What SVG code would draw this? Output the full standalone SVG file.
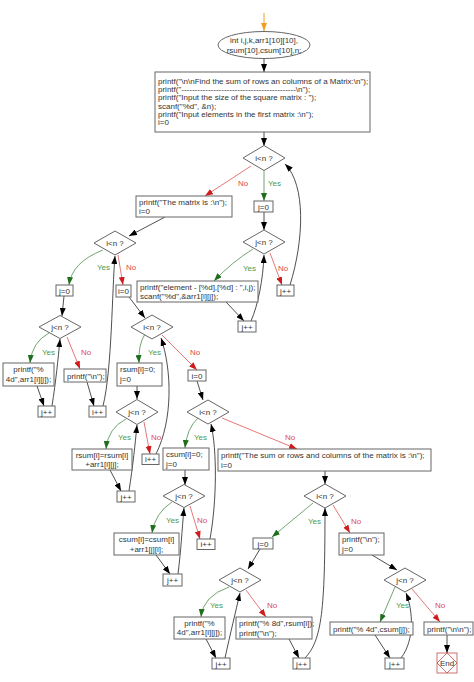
<svg xmlns="http://www.w3.org/2000/svg" width="474" height="682" viewBox="0 0 474 682">
<style>
text{font-family:"Liberation Sans",Arial,sans-serif;font-size:8px;fill:#333}
.c{text-anchor:middle}
.b{fill:#fff;stroke:#666;stroke-width:1}
.e{fill:none;stroke:#222;stroke-width:0.8;marker-end:url(#mk)}
.g{fill:none;stroke:#4e8e4e;stroke-width:0.8;marker-end:url(#mg)}
.r{fill:none;stroke:#dd5555;stroke-width:0.8;marker-end:url(#mr)}
.ly{fill:#4e9a4e}
.ln{fill:#e04a4a}
</style>
<defs>
<marker id="mk" markerUnits="userSpaceOnUse" markerWidth="8" markerHeight="6" refX="8" refY="3" orient="auto"><path d="M0,0L8,3L0,6z" fill="#000"/></marker>
<marker id="mg" markerUnits="userSpaceOnUse" markerWidth="8" markerHeight="6" refX="8" refY="3" orient="auto"><path d="M0,0L8,3L0,6z" fill="#1e6e1e"/></marker>
<marker id="mr" markerUnits="userSpaceOnUse" markerWidth="8" markerHeight="6" refX="8" refY="3" orient="auto"><path d="M0,0L8,3L0,6z" fill="#d01c1c"/></marker>
<marker id="mo" markerUnits="userSpaceOnUse" markerWidth="8" markerHeight="6" refX="8" refY="3" orient="auto"><path d="M0,0L8,3L0,6z" fill="#f0a020"/></marker>
</defs>
<rect width="474" height="682" fill="#fff"/>
<g id="connectors">
<path d="M264 13L264 31" fill="none" stroke="#f0a020" stroke-width="1" marker-end="url(#mo)"/>
<path class="e" d="M264 58.5L264 72"/>
<path class="e" d="M264 132L264 146"/>
<path class="g" d="M264 170.5L264 201"/>
<path class="r" d="M251 166L205 196"/>
<path class="e" d="M264 212L264 230"/>
<path class="g" d="M253 249Q232 262 214 281"/>
<path class="r" d="M270 253L282 285"/>
<path class="e" d="M226 302L244 321"/>
<path class="e" d="M251 321C258 305 263 280 264 255"/>
<path class="e" d="M290 285C304 240 306 185 285 164"/>
<path class="e" d="M165 217L129 236"/>
<path class="g" d="M103 250Q72 262 69 285"/>
<path class="r" d="M118 255L123 285"/>
<path class="e" d="M64 296L62 316"/>
<path class="g" d="M49 333Q32 342 30 363"/>
<path class="r" d="M67 337L80 369"/>
<path class="e" d="M37 386L44 406"/>
<path class="e" d="M52 406C56 380 58 360 60 339"/>
<path class="e" d="M87 382L94 406"/>
<path class="e" d="M103 406C112 370 112 290 115 256"/>
<path class="e" d="M129 297L145 318"/>
<path class="g" d="M145 334Q138 345 139 363"/>
<path class="r" d="M162 335L197 370"/>
<path class="e" d="M156 454C173 420 172 370 161 338"/>
<path class="e" d="M137 386L137 399"/>
<path class="g" d="M126 419Q108 428 106 449"/>
<path class="r" d="M144 422L150 454"/>
<path class="e" d="M110 470L121 491"/>
<path class="e" d="M129 491C133 465 135 445 137 425"/>
<path class="e" d="M197 381L203 400"/>
<path class="g" d="M198 418Q187 428 185 448"/>
<path class="r" d="M222 418L297 449"/>
<path class="e" d="M185 470L185 485"/>
<path class="g" d="M172 502Q155 513 152 533"/>
<path class="r" d="M190 506L200 539"/>
<path class="e" d="M156 555L170 574"/>
<path class="e" d="M178 574C181 550 182 530 184 508"/>
<path class="e" d="M210 539C217 500 217 450 211 424"/>
<path class="e" d="M325 471L325 484"/>
<path class="g" d="M313 503L272 537"/>
<path class="r" d="M333 505L350 533"/>
<path class="e" d="M260 549L248 569"/>
<path class="g" d="M229 587Q203 596 201 617"/>
<path class="r" d="M246 590L266 617"/>
<path class="e" d="M206 639L216 658"/>
<path class="e" d="M225 658C230 635 236 610 240 593"/>
<path class="e" d="M289 639L299 658"/>
<path class="e" d="M305 658C322 640 325 610 325 508"/>
<path class="e" d="M372 555L397 570"/>
<path class="g" d="M395 587L380 622"/>
<path class="r" d="M412 589L440 622"/>
<path class="e" d="M375 635L390 658"/>
<path class="e" d="M401 658C415 640 413 610 406 593"/>
<path class="e" d="M447 635L447 653"/>
<text class="ly" x="268" y="186">Yes</text>
<text class="ln" x="238" y="186">No</text>
<text class="ly" x="243" y="271">Yes</text>
<text class="ln" x="278" y="271">No</text>
<text class="ly" x="97" y="270">Yes</text>
<text class="ln" x="126" y="270">No</text>
<text class="ly" x="42" y="355">Yes</text>
<text class="ln" x="81" y="355">No</text>
<text class="ly" x="148" y="355">Yes</text>
<text class="ln" x="190" y="355">No</text>
<text class="ly" x="118" y="440">Yes</text>
<text class="ln" x="151" y="440">No</text>
<text class="ly" x="194" y="440">Yes</text>
<text class="ln" x="285" y="440">No</text>
<text class="ly" x="166" y="523">Yes</text>
<text class="ln" x="197" y="523">No</text>
<text class="ly" x="308" y="524">Yes</text>
<text class="ln" x="351" y="524">No</text>
<text class="ly" x="210" y="608">Yes</text>
<text class="ln" x="267" y="608">No</text>
<text class="ly" x="396" y="608">Yes</text>
<text class="ln" x="435" y="608">No</text>
</g>
<g id="n_decl"><ellipse cx="264" cy="45" rx="46" ry="13.5" class="b"/><text class="c" x="264" y="43">int i,j,k,arr1[10][10],</text><text class="c" x="264" y="53">rsum[10],csum[10],n;</text></g>
<g id="n_init"><rect class="b" x="155" y="72" width="215" height="60"/>
<text x="158" y="84">printf("\n\nFind the sum of rows an columns of a Matrix:\n");</text>
<text x="158" y="92">printf("-------------------------------------------\n");</text>
<text x="158" y="100">printf("Input the size of the square matrix : ");</text>
<text x="158" y="108.5">scanf("%d", &amp;n);</text>
<text x="158" y="116.5">printf("Input elements in the first matrix :\n");</text>
<text x="158" y="125">i=0</text></g>
<g id="d1"><path class="b" d="M243 158L264 145.5L285 158L264 170.5z"/><text class="c" x="264" y="161">i&lt;n ?</text></g>
<g id="n_j0a"><rect class="b" x="254" y="201" width="19" height="11"/><text class="c" x="263.5" y="209.5">j=0</text></g>
<g id="d2"><path class="b" d="M243 242L264 230L285 242L264 254z"/><text class="c" x="264" y="245">j&lt;n ?</text></g>
<g id="n_elem"><rect class="b" x="137" y="281" width="121" height="21"/><text x="140" y="289.5">printf("element - [%d],[%d] : ",i,j);</text><text x="140" y="298.5">scanf("%d",&amp;arr1[i][j]);</text></g>
<g id="n_jpa"><rect class="b" x="238" y="321" width="18" height="11"/><text class="c" x="247" y="329.5">j++</text></g>
<g id="n_ipa"><rect class="b" x="277" y="285" width="17" height="11"/><text class="c" x="285.5" y="293.5">j++</text></g>
<g id="n_mat"><rect class="b" x="136" y="196" width="96" height="21"/><text x="139" y="204.5">printf("The matrix is :\n");</text><text x="139" y="213.5">i=0</text></g>
<g id="d3"><path class="b" d="M94 243L115 231L136 243L115 255z"/><text class="c" x="115" y="246">i&lt;n ?</text></g>
<g id="n_j0b"><rect class="b" x="56" y="285" width="17" height="11"/><text class="c" x="64.5" y="293.5">j=0</text></g>
<g id="d4"><path class="b" d="M39 327L60 315.5L81 327L60 338.5z"/><text class="c" x="60" y="330">j&lt;n ?</text></g>
<g id="n_p4a"><rect class="b" x="3" y="363" width="51" height="23"/><text class="c" x="28.5" y="372">printf("%</text><text class="c" x="28.5" y="381.5">4d",arr1[i][j]);</text></g>
<g id="n_pn"><rect class="b" x="64" y="369" width="42" height="13"/><text x="67" y="378.5">printf("\n");</text></g>
<g id="n_jpb"><rect class="b" x="38" y="406" width="17" height="11"/><text class="c" x="46.5" y="414.5">j++</text></g>
<g id="n_ipb"><rect class="b" x="89" y="406" width="17" height="11"/><text class="c" x="97.5" y="414.5">i++</text></g>
<g id="n_i0b"><rect class="b" x="116" y="285" width="15" height="12"/><text class="c" x="123.5" y="294">i=0</text></g>
<g id="d5"><path class="b" d="M131 327L152 315L173 327L152 339z"/><text class="c" x="152" y="330">i&lt;n ?</text></g>
<g id="n_rs0"><rect class="b" x="117" y="363" width="45" height="23"/><text x="120" y="372">rsum[i]=0;</text><text x="120" y="381.5">j=0</text></g>
<g id="d6"><path class="b" d="M116 412L137 399.5L158 412L137 424.5z"/><text class="c" x="137" y="415">j&lt;n ?</text></g>
<g id="n_rsa"><rect class="b" x="72" y="449" width="60" height="21"/><text class="c" x="102" y="457.5">rsum[i]=rsum[i]</text><text class="c" x="102" y="467">+arr1[i][j];</text></g>
<g id="n_jpc"><rect class="b" x="117" y="491" width="18" height="11"/><text class="c" x="126" y="499.5">j++</text></g>
<g id="n_ipc"><rect class="b" x="142" y="454" width="17" height="10.5"/><text class="c" x="150.5" y="462">i++</text></g>
<g id="n_i0c"><rect class="b" x="188" y="370" width="18" height="11"/><text class="c" x="197" y="378.5">i=0</text></g>
<g id="d7"><path class="b" d="M187 412L208 400L229 412L208 424z"/><text class="c" x="208" y="415">i&lt;n ?</text></g>
<g id="n_cs0"><rect class="b" x="163" y="448" width="46" height="22"/><text x="166" y="457">csum[i]=0;</text><text x="166" y="466.5">j=0</text></g>
<g id="d8"><path class="b" d="M163 496L184 484.5L205 496L184 507.5z"/><text class="c" x="184" y="499">j&lt;n ?</text></g>
<g id="n_csa"><rect class="b" x="114" y="533" width="65" height="22"/><text class="c" x="146.5" y="542">csum[i]=csum[i]</text><text class="c" x="146.5" y="551.5">+arr1[j][i];</text></g>
<g id="n_jpd"><rect class="b" x="163" y="574" width="19" height="12"/><text class="c" x="172.5" y="583">j++</text></g>
<g id="n_ipd"><rect class="b" x="197" y="539" width="18" height="10.5"/><text class="c" x="206" y="547">i++</text></g>
<g id="n_sum"><rect class="b" x="218" y="449" width="213" height="22"/><text x="221" y="458">printf("The sum or rows and columns of the matrix is :\n");</text><text x="221" y="467.5">i=0</text></g>
<g id="d9"><path class="b" d="M304 496L325 484L346 496L325 508z"/><text class="c" x="325" y="499">i&lt;n ?</text></g>
<g id="n_j0e"><rect class="b" x="253" y="538" width="20" height="11"/><text class="c" x="263" y="546.5">j=0</text></g>
<g id="d10"><path class="b" d="M219 580L240 568L261 580L240 592z"/><text class="c" x="240" y="583">j&lt;n ?</text></g>
<g id="n_p4e"><rect class="b" x="174" y="617" width="51" height="22"/><text class="c" x="199.5" y="625.5">printf("%</text><text class="c" x="199.5" y="635">4d",arr1[i][j]);</text></g>
<g id="n_p8"><rect class="b" x="236" y="617" width="76" height="22"/><text x="239" y="626">printf("% 8d",rsum[i]);</text><text x="239" y="635.5">printf("\n");</text></g>
<g id="n_jpe"><rect class="b" x="212" y="658" width="18" height="11"/><text class="c" x="221" y="666.5">j++</text></g>
<g id="n_ipe"><rect class="b" x="293" y="658" width="17" height="11"/><text class="c" x="301.5" y="666.5">j++</text></g>
<g id="n_pnj"><rect class="b" x="339" y="533" width="45" height="22"/><text x="342" y="542">printf("\n");</text><text x="342" y="551.5">j=0</text></g>
<g id="d11"><path class="b" d="M384 580L405 568L426 580L405 592z"/><text class="c" x="405" y="583">j&lt;n ?</text></g>
<g id="n_pcs"><rect class="b" x="330" y="622" width="83" height="13"/><text x="333" y="631.5">printf("% 4d",csum[j]);</text></g>
<g id="n_pnn"><rect class="b" x="424" y="622" width="49" height="13"/><text x="427" y="631.5">printf("\n\n");</text></g>
<g id="n_jpf"><rect class="b" x="385" y="658" width="19" height="11"/><text class="c" x="394.5" y="666.5">j++</text></g>
<g id="n_end"><rect x="437" y="653" width="20" height="20" fill="#fff" stroke="#c05050" stroke-width="0.8"/><path d="M447 653L457 663L447 673L437 663z" fill="none" stroke="#c05050" stroke-width="0.8"/><text class="c" x="447" y="666">End</text></g>
</svg>
